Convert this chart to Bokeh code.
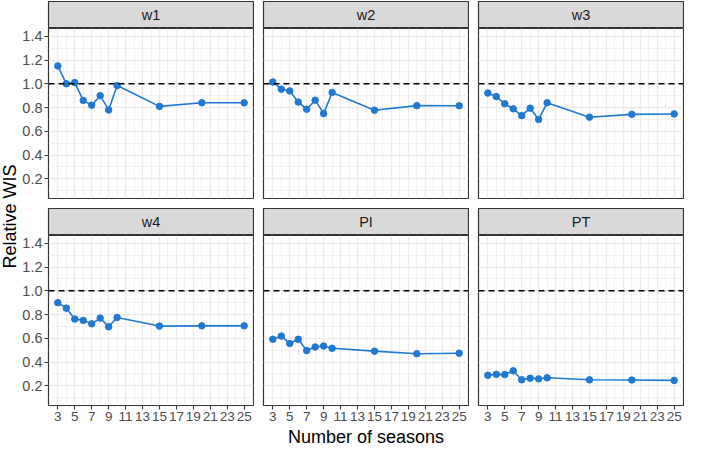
import math
from bokeh.plotting import figure
from bokeh.layouts import row, column
from bokeh.models import Range1d, FixedTicker, Grid, Span
from bokeh.core.properties import value
from bokeh.embed import file_html
from bokeh.resources import INLINE

# ---- data ----
seasons = [3, 4, 5, 6, 7, 8, 9, 10, 15, 20, 25]
w1 = [1.15, 1.00, 1.01, 0.86, 0.82, 0.90, 0.78, 0.985, 0.81, 0.84, 0.84]
w2 = [1.015, 0.955, 0.94, 0.846, 0.786, 0.862, 0.749, 0.927, 0.778, 0.816, 0.815]
w3 = [0.922, 0.892, 0.832, 0.789, 0.732, 0.795, 0.700, 0.840, 0.719, 0.743, 0.746]
w4 = [0.900, 0.854, 0.762, 0.751, 0.722, 0.770, 0.697, 0.776, 0.703, 0.705, 0.705]
PI = [0.592, 0.619, 0.557, 0.592, 0.497, 0.527, 0.535, 0.516, 0.492, 0.470, 0.475]
PT = [0.289, 0.297, 0.295, 0.327, 0.251, 0.265, 0.259, 0.268, 0.251, 0.249, 0.246]
panel_names = ["w1", "w2", "w3", "w4", "PI", "PT"]
panel_values = [w1, w2, w3, w4, PI, PT]

x_ticks = [3, 5, 7, 9, 11, 13, 15, 17, 19, 21, 23, 25]
x_minor = [2, 4, 6, 8, 10, 12, 14, 16, 18, 20, 22, 24, 26]
y_ticks = [0.2, 0.4, 0.6, 0.8, 1.0, 1.2, 1.4]
y_tick_labels = ["0.2", "0.4", "0.6", "0.8", "1.0", "1.2", "1.4"]
y_minor = [0.1, 0.3, 0.5, 0.7, 0.9, 1.1, 1.3]
ref_line = 1.0

# ---- style ----
FONT = "Liberation Sans"
LINE_C = "#1F78D2"
BORDER = "#333333"
GRID = "#EBEBEB"
FW, FH, SH = 205, 170, 27
LB = 30


def strip(name, left_border):
    s = figure(frame_width=FW, frame_height=SH, x_range=Range1d(0, 1), y_range=Range1d(0, 1),
               output_backend="svg", toolbar_location=None,
               x_axis_location=None, y_axis_location=None,
               min_border_left=left_border, min_border_right=1, min_border_top=1, min_border_bottom=0)
    s.grid.visible = False
    s.background_fill_color = "#D9D9D9"
    s.border_fill_color = "white"
    s.outline_line_color = BORDER
    s.outline_line_width = 1.2
    s.text(x=[0.5], y=[0.5], text=[name], text_align="center", text_baseline="middle",
           text_font=value(FONT), text_font_size="14.5px", text_color="#1A1A1A")
    return s


def panel(idx):
    name = panel_names[idx]
    vals = panel_values[idx]
    show_y = idx % 3 == 0
    show_x = idx >= 3
    left_border = LB if show_y else 1
    p = figure(frame_width=FW, frame_height=FH,
               x_range=Range1d(1.9, 26.1), y_range=Range1d(0.035, 1.465),
               output_backend="svg", toolbar_location=None,
               x_axis_location="below" if show_x else None,
               y_axis_location="left" if show_y else None,
               min_border_left=left_border, min_border_right=1, min_border_top=0,
               min_border_bottom=0 if show_x else 1)
    p.grid.visible = False
    p.background_fill_color = "white"
    p.border_fill_color = "white"
    p.outline_line_color = BORDER
    p.outline_line_width = 1.2
    xt = FixedTicker(ticks=x_ticks, minor_ticks=x_minor)
    yt = FixedTicker(ticks=y_ticks, minor_ticks=y_minor)
    for dim, t in ((0, xt), (1, yt)):
        g = Grid(dimension=dim, ticker=t, grid_line_color=GRID, grid_line_width=1.4,
                 minor_grid_line_color=GRID, minor_grid_line_width=0.7, level="underlay")
        p.add_layout(g)
    if show_y:
        ax = p.yaxis[0]
        ax.ticker = yt
        ax.major_label_overrides = {t: l for t, l in zip(y_ticks, y_tick_labels)}
        ax.major_label_text_font_size = "14.5px"
    if show_x:
        ax = p.xaxis[0]
        ax.ticker = xt
        ax.major_label_text_font_size = "13.5px"
    for ax in (p.xaxis + p.yaxis):
        ax.axis_line_color = None
        ax.major_tick_in = 0
        ax.major_tick_out = 4
        ax.major_tick_line_color = BORDER
        ax.major_tick_line_width = 1.1
        ax.minor_tick_line_color = None
        ax.major_label_text_font = FONT
        ax.major_label_text_color = "#4D4D4D"
        ax.major_label_standoff = 2
    if idx == 4:
        ax = p.xaxis[0]
        ax.axis_label = "Number of seasons"
        ax.axis_label_text_font = FONT
        ax.axis_label_text_font_size = "18px"
        ax.axis_label_text_font_style = "normal"
        ax.axis_label_text_color = "black"
        ax.axis_label_standoff = 3
    p.add_layout(Span(location=ref_line, dimension="width", line_color="black",
                      line_dash="6 4", line_width=1.5))
    p.line(seasons, vals, line_color=LINE_C, line_width=1.6)
    p.scatter(seasons, vals, size=6.5, fill_color=LINE_C, line_color=LINE_C)
    return column(strip(name, left_border), p, spacing=0)


top = row([panel(i) for i in range(3)], spacing=8)
bottom = row([panel(i) for i in range(3, 6)], spacing=8)
grid = column(top, bottom, spacing=8)

GH = 1 + SH + FH + 1 + 8 + 1 + SH + FH
ylab = figure(width=18, height=GH, x_range=Range1d(0, 18), y_range=Range1d(0, GH),
              output_backend="svg", toolbar_location=None,
              x_axis_location=None, y_axis_location=None, min_border=0)
ylab.grid.visible = False
ylab.outline_line_color = None
ylab.text(x=[9], y=[GH - 216], text=["Relative WIS"], angle=math.pi / 2,
          text_align="center", text_baseline="middle",
          text_font=value(FONT), text_font_size="18px", text_color="black")

layout = row(ylab, grid, spacing=0)

open("out.html", "w").write(file_html(layout, INLINE))
